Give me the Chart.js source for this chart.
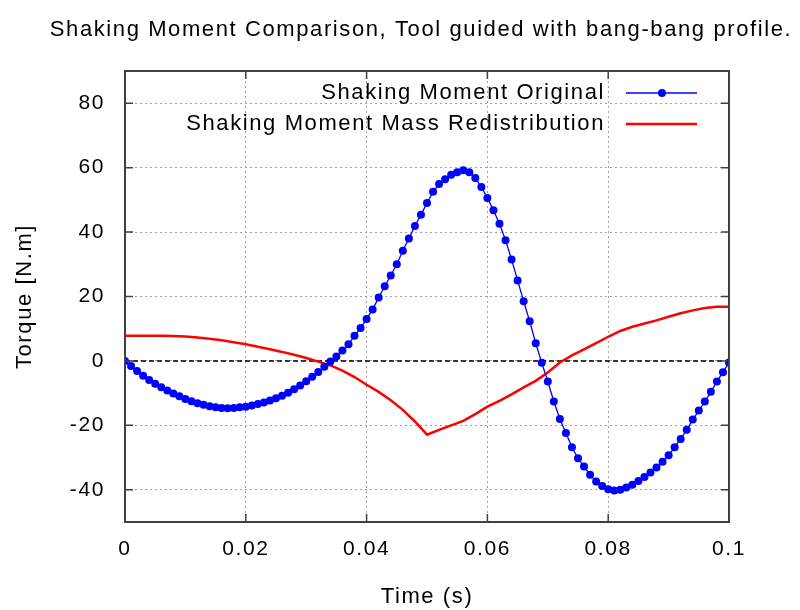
<!DOCTYPE html>
<html>
<head>
<meta charset="utf-8">
<script src="https://cdn.jsdelivr.net/npm/chart.js@4.4.1/dist/chart.umd.min.js"></script>
<style>
  html, body { margin: 0; padding: 0; background: #fff; }
  #wrap { width: 800px; height: 610px; }
</style>
</head>
<body>
<div id="wrap"><canvas id="myChart"></canvas></div>
<script>
// values
var chartTitle = 'Shaking Moment Comparison, Tool guided with bang-bang profile.';
var seriesLabels = ['Shaking Moment Original', 'Shaking Moment Mass Redistribution'];

var timeOriginal = [
  0, 0.001, 0.002, 0.003, 0.004, 0.005, 0.006, 0.007, 0.008, 0.009,
  0.010, 0.011, 0.012, 0.013, 0.014, 0.015, 0.016, 0.017, 0.018, 0.019,
  0.020, 0.021, 0.022, 0.023, 0.024, 0.025, 0.026, 0.027, 0.028, 0.029,
  0.030, 0.031, 0.032, 0.033, 0.034, 0.035, 0.036, 0.037, 0.038, 0.039,
  0.040, 0.041, 0.042, 0.043, 0.044, 0.045, 0.046, 0.047, 0.048, 0.049,
  0.050, 0.051, 0.052, 0.053, 0.054, 0.055, 0.056, 0.057, 0.058, 0.059,
  0.060, 0.061, 0.062, 0.063, 0.064, 0.065, 0.066, 0.067, 0.068, 0.069,
  0.070, 0.071, 0.072, 0.073, 0.074, 0.075, 0.076, 0.077, 0.078, 0.079,
  0.080, 0.081, 0.082, 0.083, 0.084, 0.085, 0.086, 0.087, 0.088, 0.089,
  0.090, 0.091, 0.092, 0.093, 0.094, 0.095, 0.096, 0.097, 0.098, 0.099, 0.100
];
var shakingOriginal = [
  0, -1.6, -3.1, -4.6, -5.9, -7.1, -8.2, -9.2, -10.1, -11.0,
  -11.8, -12.5, -13.1, -13.6, -14.1, -14.4, -14.6, -14.7, -14.6, -14.4,
  -14.2, -13.8, -13.4, -12.9, -12.3, -11.6, -10.8, -9.9, -8.8, -7.6,
  -6.3, -4.9, -3.4, -1.8, -0.2, 1.4, 3.2, 5.2, 7.8, 10.2,
  13.0, 16.0, 19.7, 23.2, 26.5, 30.0, 34.2, 38.0, 41.9, 45.4,
  49.0, 52.5, 54.9, 56.4, 57.8, 58.6, 59.2, 58.6, 56.8, 54.0,
  50.6, 46.8, 42.6, 37.5, 31.5, 25.0, 18.5, 12.3, 5.5, -0.6,
  -6.4, -12.6, -18.0, -22.4, -26.8, -30.2, -32.8, -35.3, -37.4, -38.8,
  -39.8, -40.2, -40.0, -39.3, -38.4, -37.3, -36.0, -34.6, -33.1, -31.3,
  -29.3, -26.8, -24.2, -21.4, -18.2, -15.4, -12.6, -9.6, -6.4, -3.5, -0.5
];

var timeRedist = [
  0, 0.002, 0.004, 0.006, 0.008, 0.010, 0.012, 0.014, 0.016, 0.018,
  0.020, 0.022, 0.024, 0.026, 0.028, 0.030, 0.032, 0.034, 0.036, 0.038,
  0.040, 0.042, 0.044, 0.046, 0.048, 0.050, 0.052, 0.054, 0.056, 0.058,
  0.060, 0.062, 0.064, 0.066, 0.068, 0.070, 0.072, 0.074, 0.076, 0.078,
  0.080, 0.082, 0.084, 0.086, 0.088, 0.090, 0.092, 0.094, 0.096, 0.098, 0.100
];
var shakingRedist = [
  7.8, 7.8, 7.8, 7.8, 7.7, 7.6, 7.3, 6.9, 6.4, 5.8,
  5.2, 4.4, 3.6, 2.8, 1.9, 0.9, -0.2, -1.4, -3.0, -5.0,
  -7.4, -9.6, -12.2, -15.2, -18.8, -22.9, -21.4, -20.0, -18.6, -16.5,
  -14.2, -12.4, -10.4, -8.2, -6.2, -3.6, -0.5, 1.7, 3.6, 5.5,
  7.5, 9.3, 10.6, 11.6, 12.6, 13.7, 14.8, 15.7, 16.4, 16.8, 16.8
];

var xTicks = [0, 0.02, 0.04, 0.06, 0.08, 0.1];
var yTicks = [-40, -20, 0, 20, 40, 60, 80];

var fontFamily = '"Liberation Sans", Arial, sans-serif';
var letterGap = '1.6px';   // gnuplot's png text is spaced wider than canvas text

function toPoints(xs, ys) {
  return xs.map(function(x, i) { return { x: x, y: ys[i] }; });
}

// title, frame, inward ticks, zero axis and gnuplot-style legend
var gnuplotDecor = {
  id: 'gnuplotDecor',
  beforeLayout: function(chart) { chart.ctx.letterSpacing = letterGap; },
  beforeDraw: function(chart) { chart.ctx.letterSpacing = letterGap; },
  beforeDatasetsDraw: function(chart) {
    var ctx = chart.ctx, a = chart.chartArea;
    var y0 = chart.scales.y.getPixelForValue(0);
    ctx.save();
    ctx.strokeStyle = '#000';
    ctx.lineWidth = 1.5;
    ctx.setLineDash([5, 3]);
    ctx.beginPath();
    ctx.moveTo(a.left, y0);
    ctx.lineTo(a.right, y0);
    ctx.stroke();
    ctx.restore();
  },
  afterDatasetsDraw: function(chart) {
    var ctx = chart.ctx, a = chart.chartArea;
    var xs = chart.scales.x, ys = chart.scales.y;
    ctx.save();
    // frame
    ctx.strokeStyle = '#404040';
    ctx.lineWidth = 2;
    ctx.strokeRect(a.left, a.top, a.right - a.left, a.bottom - a.top);
    // ticks pointing inwards on all four sides
    ctx.lineWidth = 1.5;
    ctx.beginPath();
    xTicks.forEach(function(v) {
      var px = xs.getPixelForValue(v);
      ctx.moveTo(px, a.bottom); ctx.lineTo(px, a.bottom - 8);
      ctx.moveTo(px, a.top); ctx.lineTo(px, a.top + 8);
    });
    yTicks.forEach(function(v) {
      var py = ys.getPixelForValue(v);
      ctx.moveTo(a.left, py); ctx.lineTo(a.left + 8, py);
      ctx.moveTo(a.right, py); ctx.lineTo(a.right - 8, py);
    });
    ctx.stroke();

    // legend
    ctx.letterSpacing = letterGap;
    ctx.font = '22px ' + fontFamily;
    ctx.textAlign = 'right';
    ctx.textBaseline = 'middle';
    chart.data.datasets.forEach(function(ds, i) {
      var ry = a.top + 22 + i * 31;
      ctx.fillStyle = '#000';
      ctx.fillText(ds.label, a.right - 124, ry);
      ctx.strokeStyle = ds.borderColor;
      ctx.lineWidth = ds.borderWidth;
      ctx.beginPath();
      ctx.moveTo(a.right - 103, ry);
      ctx.lineTo(a.right - 32, ry);
      ctx.stroke();
      if (ds.pointRadius > 0) {
        ctx.fillStyle = ds.pointBackgroundColor;
        ctx.beginPath();
        ctx.arc(a.right - 67, ry, ds.pointRadius, 0, Math.PI * 2);
        ctx.fill();
      }
    });

    // title
    ctx.fillStyle = '#000';
    ctx.textAlign = 'center';
    ctx.font = '22px ' + fontFamily;
    ctx.fillText(chartTitle, chart.width / 2 + 21, 30);
    ctx.restore();
  }
};

var ctx = document.getElementById('myChart').getContext('2d');
var myChart = new Chart(ctx, {
  type: 'line',
  data: {
    datasets: [{
      label: seriesLabels[0],
      data: toPoints(timeOriginal, shakingOriginal),
      borderColor: '#0000ff',
      backgroundColor: '#0000ff',
      pointBackgroundColor: '#0000ff',
      pointBorderWidth: 0,
      pointRadius: 4,
      pointStyle: 'circle',
      borderWidth: 1.3,
      tension: 0
    }, {
      label: seriesLabels[1],
      data: toPoints(timeRedist, shakingRedist),
      borderColor: '#ff0000',
      backgroundColor: '#ff0000',
      pointRadius: 0,
      borderWidth: 2.5,
      tension: 0
    }]
  },
  options: {
    responsive: true,
    maintainAspectRatio: false,
    animation: false,
    layout: { padding: { top: 71, right: 71, left: 0, bottom: 0 } },
    plugins: {
      legend: { display: false },
      title: { display: false },
      tooltip: { enabled: false }
    },
    scales: {
      x: {
        type: 'linear',
        min: 0,
        max: 0.1,
        afterBuildTicks: function(s) { s.ticks = xTicks.map(function(v) { return { value: v }; }); },
        afterFit: function(s) { s.height = 88; },
        ticks: {
          color: '#000',
          padding: 15,
          maxRotation: 0,
          font: { family: fontFamily, size: 21 },
          callback: function(v) { return String(v); }
        },
        grid: { color: '#a0a0a0', lineWidth: 1, drawTicks: false },
        border: { display: false, dash: [2, 3] },
        title: {
          display: true,
          text: 'Time (s)',
          color: '#000',
          font: { family: fontFamily, size: 22 },
          padding: { top: 0, bottom: 0 }
        }
      },
      y: {
        type: 'linear',
        min: -50,
        max: 90,
        afterBuildTicks: function(s) { s.ticks = yTicks.map(function(v) { return { value: v }; }); },
        afterFit: function(s) { s.width = 125; },
        ticks: {
          color: '#000',
          padding: 20,
          font: { family: fontFamily, size: 21 }
        },
        grid: { color: '#a0a0a0', lineWidth: 1, drawTicks: false },
        border: { display: false, dash: [2, 3] },
        title: {
          display: true,
          text: 'Torque [N.m]',
          color: '#000',
          font: { family: fontFamily, size: 22 },
          padding: { top: 12, bottom: 0 }
        }
      }
    }
  },
  plugins: [gnuplotDecor]
});
</script>
</body>
</html>
